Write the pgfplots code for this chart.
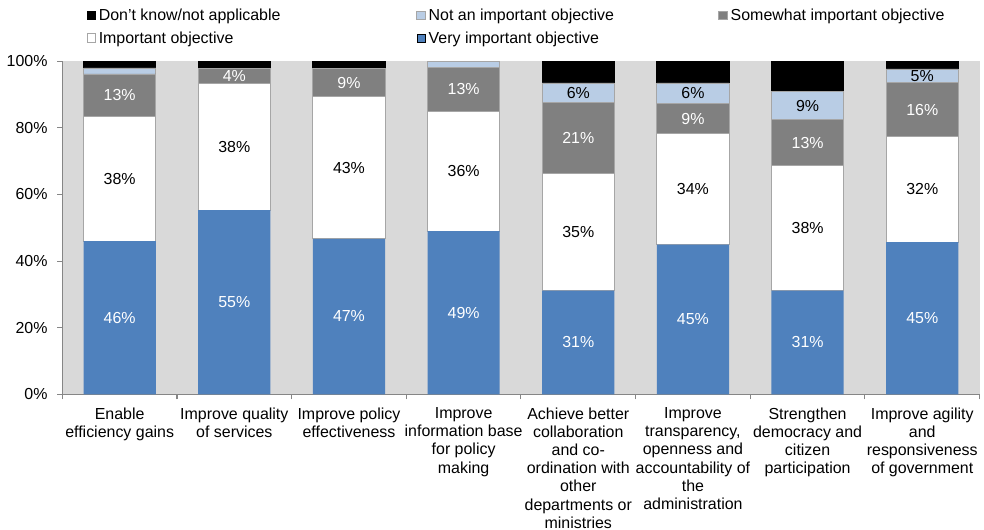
\documentclass[border=0pt]{standalone}
\usepackage{pgfplots}
\pgfplotsset{compat=1.18}
\usepackage{pgfplotstable}
\usepackage{fontspec}
\setmainfont{Liberation Sans}

\definecolor{vblue}{HTML}{4F81BD}
\definecolor{lblue}{HTML}{B9CDE5}
\definecolor{mgrey}{HTML}{808080}
\definecolor{bggrey}{HTML}{D9D9D9}
\definecolor{edge}{HTML}{A6A6A6}
\definecolor{axgrey}{HTML}{868686}

% shares per category (percent), stacked bottom to top
\pgfplotstableread{
x very imp some notimp dk
0 46.0 37.5 12.7 1.8 2.0
1 55.3 38.1 4.5 0.0 2.1
2 46.7 42.6 8.6 0.0 2.1
3 49.0 36.0 13.2 1.8 0.0
4 31.1 35.3 21.3 5.8 6.5
5 44.9 33.4 9.0 6.2 6.5
6 31.1 37.6 13.7 8.5 9.1
7 45.7 31.6 16.3 4.1 2.3
}\shares

% label positions (segment centres) and printed values
\pgfplotstableread{
x y lab
0 23.0 46
0 89.85 13
1 27.65 55
1 95.65 4
2 23.35 47
2 93.6 9
3 24.5 49
3 91.6 13
4 15.55 31
4 77.05 21
5 22.45 45
5 82.8 9
6 15.55 31
6 75.55 13
7 22.85 45
7 85.45 16
}\whitelabs
\pgfplotstableread{
x y lab
0 64.75 38
1 74.35 38
2 68.0 43
3 67.0 36
4 48.75 35
4 90.6 6
5 61.6 34
5 90.4 6
6 49.9 38
6 86.65 9
7 61.5 32
7 95.65 5
}\blacklabs

\pgfplotsset{
  common/.style={
    scale only axis, width=690pt, height=250.5pt,
    xmin=-0.5, xmax=7.5, ymin=0, ymax=100,
  },
}

\begin{document}
\begin{tikzpicture}
\begin{axis}[
  common,
  ybar stacked, bar width=0.63,
  axis background/.style={fill=bggrey},
  axis x line*=bottom, axis y line*=left,
  axis line style={draw=axgrey, line width=0.8pt},
  tick align=outside,
  major tick length=3.75pt,
  ytick={0,20,40,60,80,100},
  yticklabels={0\%,20\%,40\%,60\%,80\%,100\%},
  ytick style={draw=axgrey, line width=0.8pt},
  xtick={0,...,7},
  xtick style={draw=none},
  extra x ticks={-0.5,0.5,...,7.5},
  extra x tick labels={},
  extra x tick style={xtick style={draw=axgrey, line width=0.8pt}},
  xticklabels={
    {Enable\\efficiency gains},
    {Improve quality\\of services},
    {Improve policy\\effectiveness},
    {Improve\\information base\\for policy\\making},
    {Achieve better\\collaboration\\and co-\\ordination with\\other\\departments or\\ministries},
    {Improve\\transparency,\\openness and\\accountability of\\the\\administration},
    {Strengthen\\democracy and\\citizen\\participation},
    {Improve agility\\and\\responsiveness\\of government}
  },
  x tick label style={align=center, font=\fontsize{12}{13.7}\selectfont, inner ysep=1pt, yshift=-5pt},
  y tick label style={font=\fontsize{12}{14}\selectfont, inner xsep=5pt, xshift=-2.25pt},
  legend columns=3,
  reverse legend,
  legend image code/.code={\draw[#1] (0pt,-3.3pt) rectangle (6.6pt,3.3pt);},
  legend style={draw=none, fill=none, at={(0,1)}, anchor=south west,
    xshift=18pt, yshift=5.5pt, inner xsep=0pt, inner ysep=4.5pt, row sep=3pt,
    font=\fontsize{12}{14}\selectfont},
  legend cell align=left,
]
\addplot[fill=vblue, draw=none] table[x=x, y=very] {\shares};
\addlegendentry{\makebox[216pt][l]{Very important objective}}
\addplot[fill=white, draw=edge, line width=0.6pt] table[x=x, y=imp] {\shares};
\addlegendentry{\makebox[237pt][l]{Important objective}}
\addplot[fill=mgrey, draw=edge, line width=0.6pt] table[x=x, y=some] {\shares};
\addlegendentry{Somewhat important objective}
\addplot[fill=lblue, draw=edge, line width=0.6pt] table[x=x, y=notimp] {\shares};
\addlegendentry{\makebox[216pt][l]{Not an important objective}}
\addplot[fill=black, draw=black, line width=0.6pt] table[x=x, y=dk] {\shares};
\addlegendentry{\makebox[237pt][l]{Don't know/not applicable}}
\end{axis}
\begin{axis}[
  common, hide axis,
  nodes near coords={\pgfplotspointmeta\%},
  nodes near coords align=center,
  point meta=explicit symbolic,
]
\addplot[draw=none, mark=none, every node near coord/.append style={text=white, font=\fontsize{12}{14}\selectfont}]
  table[x=x, y=y, meta=lab] {\whitelabs};
\addplot[draw=none, mark=none, every node near coord/.append style={text=black, font=\fontsize{12}{14}\selectfont}]
  table[x=x, y=y, meta=lab] {\blacklabs};
\end{axis}
\end{tikzpicture}
\end{document}
